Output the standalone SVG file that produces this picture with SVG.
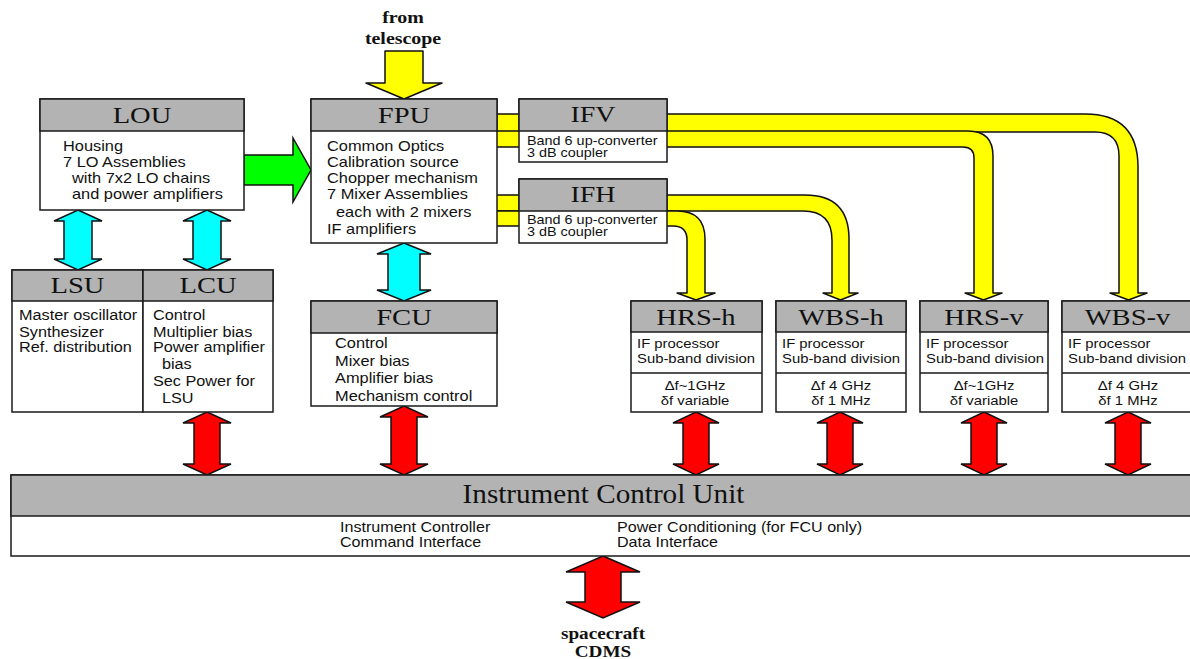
<svg xmlns="http://www.w3.org/2000/svg" width="1190" height="659" viewBox="0 0 1190 659">
<style>
.box{fill:#fff;stroke:#1a1a1a;stroke-width:1.5}
.hdr{fill:#b3b3b3;stroke:#1a1a1a;stroke-width:1.5}
.ln{stroke:#1a1a1a;stroke-width:1.5;fill:none}
.ttl{font-family:"Liberation Serif","Times New Roman",serif;font-size:24px;fill:#111;text-anchor:middle}
.bd{font-family:"Liberation Sans",Arial,sans-serif;font-size:14px;fill:#111}
.sm{font-family:"Liberation Sans",Arial,sans-serif;font-size:12px;fill:#111}
.sp{font-family:"Liberation Sans",Arial,sans-serif;font-size:12.5px;fill:#111}
.lbl{font-family:"Liberation Serif","Times New Roman",serif;font-weight:bold;font-size:17px;fill:#111;text-anchor:middle}
.mid{text-anchor:middle}
.ye{fill:#ffff00;stroke:#111;stroke-width:1.5;stroke-linejoin:round}
.cy{fill:#00ffff;stroke:#111;stroke-width:1.5}
.rd{fill:#ff0000;stroke:#111;stroke-width:1.5}
.gr{fill:#00ff00;stroke:#111;stroke-width:1.5}
</style>

<g id="connectors">
  <!-- telescope input -->
  <polygon class="ye" points="385,51 423,51 423,83 442,83 404,99 366,83 385,83"/>
  <!-- IFV upper band to WBS-v -->
  <path class="ye" d="M490,114 H1085 Q1138,114 1138,167 V293 H1147 L1128.5,300 L1110,293 H1119 V156 Q1119,132 1095,132 H490 Z"/>
  <!-- IFV lower band to HRS-v -->
  <path class="ye" d="M490,131 H968 Q993,131 993,156 V293 H1002 L983.5,300 L965,293 H974 V158 Q974,147 963,147 H490 Z"/>
  <!-- IFH upper band to WBS-h -->
  <path class="ye" d="M490,195 H805 Q849,195 849,239 V293 H858 L840.5,300 L823,293 H832 V240 Q832,211 803,211 H490 Z"/>
  <!-- IFH lower band to HRS-h -->
  <path class="ye" d="M490,211 H677 Q705,211 705,239 V293 H715 L696,300 L677,293 H687 V240 Q687,226 673,226 H490 Z"/>
  <!-- LOU to FPU -->
  <polygon class="gr" points="244,155 293,155 293,138 311,170 293,202 293,185 244,185"/>
  <!-- cyan LOU-LSU, LOU-LCU, FPU-FCU -->
  <polygon class="cy" points="78,210 102,221 92,221 92,259 102,259 78,270 54,259 64,259 64,221 54,221"/>
  <polygon class="cy" points="207,210 231,221 221,221 221,259 231,259 207,270 183,259 193,259 193,221 183,221"/>
  <polygon class="cy" points="404,243 431,254 420,254 420,290 431,290 404,301 377,290 388,290 388,254 377,254"/>
  <!-- red to ICU -->
  <polygon class="rd" points="207,412 231,423 220,423 220,464 231,464 207,475 183,464 194,464 194,423 183,423"/>
  <polygon class="rd" points="404,406 428,417 417,417 417,464 428,464 404,475 380,464 391,464 391,417 380,417"/>
  <polygon class="rd" points="696,412 719,423 709,423 709,464 719,464 696,475 673,464 683,464 683,423 673,423"/>
  <polygon class="rd" points="840,412 863,423 853,423 853,464 863,464 840,475 817,464 827,464 827,423 817,423"/>
  <polygon class="rd" points="984,412 1007,423 997,423 997,464 1007,464 984,475 961,464 971,464 971,423 961,423"/>
  <polygon class="rd" points="1128,412 1151,423 1141,423 1141,464 1151,464 1128,475 1105,464 1115,464 1115,423 1105,423"/>
  <!-- ICU to spacecraft -->
  <polygon class="rd" points="603,556 640,572 621,572 621,602 640,602 603,618 566,602 585,602 585,572 566,572"/>
</g>

<g id="labels">
  <text class="lbl" transform="translate(403 0) scale(1.17 1)" x="0" y="23">from</text>
  <text class="lbl" transform="translate(403 0) scale(1.17 1)" x="0" y="44">telescope</text>
  <text class="lbl" style="font-size:16px" transform="translate(603 0) scale(1.2 1)" x="0" y="639">spacecraft</text>
  <text class="lbl" style="font-size:16px" transform="translate(603 0) scale(1.2 1)" x="0" y="657">CDMS</text>
</g>

<g id="lou">
  <rect class="box" x="40" y="99" width="204" height="111"/>
  <rect class="hdr" x="40" y="99" width="204" height="32"/>
  <text class="ttl" transform="translate(142 0) scale(1.19 1)" x="0" y="123">LOU</text>
  <g transform="translate(63 0) scale(1.17 1)">
    <text class="bd" x="0" y="151">Housing</text>
    <text class="bd" x="0" y="167">7 LO Assemblies</text>
    <text class="bd" x="7.7" y="183">with 7x2 LO chains</text>
    <text class="bd" x="7.7" y="199">and power amplifiers</text>
  </g>
</g>

<g id="fpu">
  <rect class="box" x="311" y="99" width="186" height="144"/>
  <rect class="hdr" x="311" y="99" width="186" height="32"/>
  <text class="ttl" transform="translate(404 0) scale(1.19 1)" x="0" y="123">FPU</text>
  <g transform="translate(327 0) scale(1.17 1)">
    <text class="bd" x="0" y="151">Common Optics</text>
    <text class="bd" x="0" y="167">Calibration source</text>
    <text class="bd" x="0" y="183">Chopper mechanism</text>
    <text class="bd" x="0" y="199">7 Mixer Assemblies</text>
    <text class="bd" x="7.7" y="217">each with 2 mixers</text>
    <text class="bd" x="0" y="234">IF amplifiers</text>
  </g>
</g>

<g id="ifv">
  <rect class="box" x="519" y="99" width="148" height="63"/>
  <rect class="hdr" x="519" y="99" width="148" height="32"/>
  <text class="ttl" transform="translate(593 0) scale(1.17 1)" x="0" y="122">IFV</text>
  <g transform="translate(527 0) scale(1.2 1)">
    <text class="sm" x="0" y="145">Band 6 up-converter</text>
    <text class="sm" x="0" y="157">3 dB coupler</text>
  </g>
</g>

<g id="ifh">
  <rect class="box" x="519" y="179" width="148" height="64"/>
  <rect class="hdr" x="519" y="179" width="148" height="32"/>
  <text class="ttl" transform="translate(593 0) scale(1.17 1)" x="0" y="202">IFH</text>
  <g transform="translate(527 0) scale(1.2 1)">
    <text class="sm" x="0" y="224">Band 6 up-converter</text>
    <text class="sm" x="0" y="236">3 dB coupler</text>
  </g>
</g>

<g id="lsu">
  <rect class="box" x="12" y="270" width="131" height="142"/>
  <rect class="hdr" x="12" y="270" width="131" height="31"/>
  <text class="ttl" transform="translate(77.5 0) scale(1.19 1)" x="0" y="293">LSU</text>
  <g transform="translate(19 0) scale(1.16 1)">
    <text class="bd" x="0" y="320">Master oscillator</text>
    <text class="bd" x="0" y="337">Synthesizer</text>
    <text class="bd" x="0" y="352">Ref. distribution</text>
  </g>
</g>

<g id="lcu">
  <rect class="box" x="143" y="270" width="130" height="142"/>
  <rect class="hdr" x="143" y="270" width="130" height="31"/>
  <text class="ttl" transform="translate(208 0) scale(1.19 1)" x="0" y="293">LCU</text>
  <g transform="translate(153 0) scale(1.16 1)">
    <text class="bd" x="0" y="320">Control</text>
    <text class="bd" x="0" y="337">Multiplier bias</text>
    <text class="bd" x="0" y="352">Power amplifier</text>
    <text class="bd" x="7.7" y="369">bias</text>
    <text class="bd" x="0" y="386">Sec Power for</text>
    <text class="bd" x="7.7" y="403">LSU</text>
  </g>
</g>

<g id="fcu">
  <rect class="box" x="311" y="301" width="186" height="105"/>
  <rect class="hdr" x="311" y="301" width="186" height="32"/>
  <text class="ttl" transform="translate(404 0) scale(1.19 1)" x="0" y="325">FCU</text>
  <g transform="translate(335 0) scale(1.17 1)">
    <text class="bd" x="0" y="348">Control</text>
    <text class="bd" x="0" y="366">Mixer bias</text>
    <text class="bd" x="0" y="383">Amplifier bias</text>
    <text class="bd" x="0" y="401">Mechanism control</text>
  </g>
</g>

<g id="hrs-h">
  <rect class="box" x="631" y="301" width="131" height="111"/>
  <rect class="hdr" x="631" y="301" width="131" height="31"/>
  <line class="ln" x1="631" y1="373" x2="762" y2="373"/>
  <text class="ttl" transform="translate(696 0) scale(1.19 1)" x="0" y="325">HRS-h</text>
  <g transform="translate(637 0) scale(1.19 1)">
    <text class="sp" x="0" y="348.5">IF  processor</text>
    <text class="sp" x="0" y="363.5">Sub-band division</text>
  </g>
  <g transform="translate(695 0) scale(1.19 1)">
    <text class="sp mid" x="0" y="390.5">Δf~1GHz</text>
    <text class="sp mid" x="0" y="405.5">δf variable</text>
  </g>
</g>

<g id="wbs-h">
  <rect class="box" x="776" y="301" width="130" height="111"/>
  <rect class="hdr" x="776" y="301" width="130" height="31"/>
  <line class="ln" x1="776" y1="373" x2="906" y2="373"/>
  <text class="ttl" transform="translate(841 0) scale(1.19 1)" x="0" y="325">WBS-h</text>
  <g transform="translate(782 0) scale(1.19 1)">
    <text class="sp" x="0" y="348.5">IF  processor</text>
    <text class="sp" x="0" y="363.5">Sub-band division</text>
  </g>
  <g transform="translate(841 0) scale(1.19 1)">
    <text class="sp mid" x="0" y="390.5">Δf 4 GHz</text>
    <text class="sp mid" x="0" y="405.5">δf 1 MHz</text>
  </g>
</g>

<g id="hrs-v">
  <rect class="box" x="920" y="301" width="128" height="111"/>
  <rect class="hdr" x="920" y="301" width="128" height="31"/>
  <line class="ln" x1="920" y1="373" x2="1048" y2="373"/>
  <text class="ttl" transform="translate(984 0) scale(1.19 1)" x="0" y="325">HRS-v</text>
  <g transform="translate(926 0) scale(1.19 1)">
    <text class="sp" x="0" y="348.5">IF  processor</text>
    <text class="sp" x="0" y="363.5">Sub-band division</text>
  </g>
  <g transform="translate(984 0) scale(1.19 1)">
    <text class="sp mid" x="0" y="390.5">Δf~1GHz</text>
    <text class="sp mid" x="0" y="405.5">δf variable</text>
  </g>
</g>

<g id="wbs-v">
  <rect class="box" x="1062" y="301" width="131" height="111"/>
  <rect class="hdr" x="1062" y="301" width="131" height="31"/>
  <line class="ln" x1="1062" y1="373" x2="1193" y2="373"/>
  <text class="ttl" transform="translate(1127.5 0) scale(1.19 1)" x="0" y="325">WBS-v</text>
  <g transform="translate(1068 0) scale(1.19 1)">
    <text class="sp" x="0" y="348.5">IF  processor</text>
    <text class="sp" x="0" y="363.5">Sub-band division</text>
  </g>
  <g transform="translate(1128 0) scale(1.19 1)">
    <text class="sp mid" x="0" y="390.5">Δf 4 GHz</text>
    <text class="sp mid" x="0" y="405.5">δf 1 MHz</text>
  </g>
</g>

<g id="icu">
  <rect class="box" x="11" y="475" width="1185" height="81"/>
  <rect class="hdr" x="11" y="475" width="1185" height="41"/>
  <text class="ttl" style="font-size:27px" transform="translate(603.5 0) scale(1.08 1)" x="0" y="503">Instrument Control Unit</text>
  <g transform="translate(340 0) scale(1.15 1)">
    <text class="bd" x="0" y="532">Instrument Controller</text>
    <text class="bd" x="0" y="547">Command Interface</text>
  </g>
  <g transform="translate(617 0) scale(1.15 1)">
    <text class="bd" x="0" y="532">Power Conditioning (for FCU only)</text>
    <text class="bd" x="0" y="547">Data Interface</text>
  </g>
</g>
</svg>
